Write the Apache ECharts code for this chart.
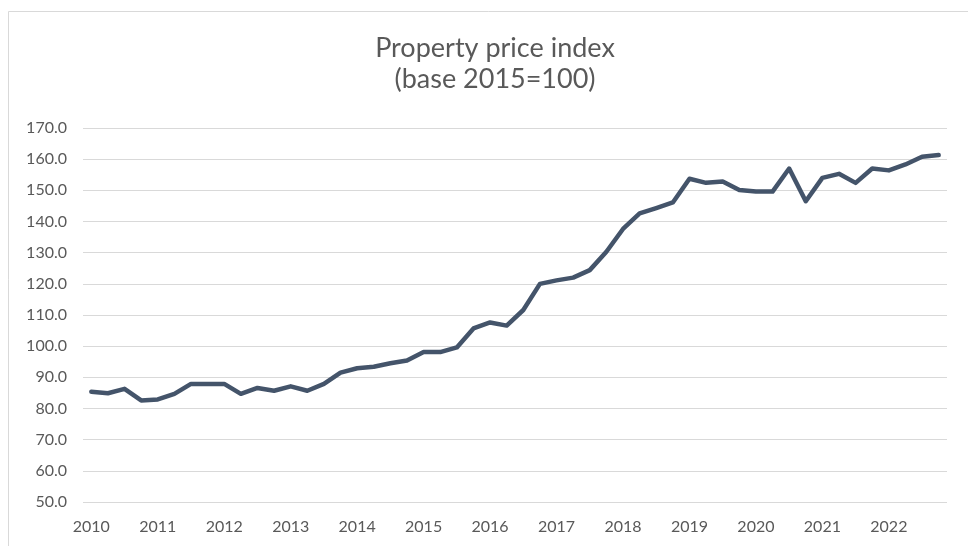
<!DOCTYPE html>
<html>
<head>
<meta charset="utf-8">
<script src="https://cdn.jsdelivr.net/npm/echarts@6/dist/echarts.min.js"></script>
<style>
  html, body { margin: 0; padding: 0; background: #fff; }
  #chart { width: 968px; height: 546px; }
</style>
</head>
<body>
<div id="chart"></div>
<script>
// quarterly, 2010 Q1 .. 2022 Q4
const years = ['2010', '2011', '2012', '2013', '2014', '2015', '2016',
  '2017', '2018', '2019', '2020', '2021', '2022']
const quarters = years.flatMap((y) => [y + 'Q1', y + 'Q2', y + 'Q3', y + 'Q4'])

const priceIndex = [
  85.4, 84.9, 86.3, 82.6,
  82.9, 84.7, 87.9, 87.9,
  87.9, 84.7, 86.6, 85.7,
  87.1, 85.7, 87.9, 91.5,
  92.9, 93.4, 94.5, 95.4,
  98.1, 98.1, 99.6, 105.7,
  107.6, 106.6, 111.6, 120.0,
  121.1, 122.0, 124.4, 130.3,
  137.6, 142.6, 144.3, 146.1,
  153.7, 152.4, 152.8, 150.1,
  149.6, 149.6, 157.0, 146.5,
  154.0, 155.3, 152.4, 157.0,
  156.4, 158.3, 160.8, 161.3,
]

const yMin = 50
const yMax = 170
const yStep = 10

const chart = echarts.init(document.getElementById('chart'), null, { renderer: 'canvas' })

chart.setOption({
  animation: false,
  backgroundColor: '#fff',
  textStyle: { fontFamily: 'Lato, "Open Sans", sans-serif' },
  title: {
    text: 'Property price index\n(base 2015=100)',
    left: 490,
    textAlign: 'center',
    top: 28,
    textStyle: {
      color: '#595959',
      fontSize: 27,
      fontWeight: 'normal',
      lineHeight: 31,
      fontFamily: 'Lato, "Open Sans", sans-serif',
    },
  },
  graphic: [
    {
      type: 'rect',
      shape: { x: 8.5, y: 11.5, width: 980, height: 560 },
      style: { fill: 'none', stroke: '#d9d9d9', lineWidth: 1 },
      silent: true,
    },
  ],
  grid: { left: 83, right: 21, top: 128, bottom: 44 },
  xAxis: {
    type: 'category',
    data: quarters,
    boundaryGap: true,
    axisLine: { show: false },
    axisTick: { show: false },
    axisLabel: {
      interval: 3,
      color: '#595959',
      fontSize: 16,
      margin: 17,
      formatter: (v) => v.slice(0, 4),
    },
  },
  yAxis: {
    type: 'value',
    min: yMin,
    max: yMax,
    interval: yStep,
    axisLine: { show: false },
    axisTick: { show: false },
    axisLabel: {
      color: '#595959',
      fontSize: 16,
      margin: 16,
      formatter: (v) => v.toFixed(1),
    },
    splitLine: { lineStyle: { color: '#d9d9d9', width: 1 } },
  },
  series: [
    {
      name: 'Property price index',
      type: 'line',
      data: priceIndex,
      showSymbol: false,
      lineStyle: { color: '#44546a', width: 4.5, join: 'round', cap: 'round' },
      itemStyle: { color: '#44546a' },
    },
  ],
})
</script>
</body>
</html>
